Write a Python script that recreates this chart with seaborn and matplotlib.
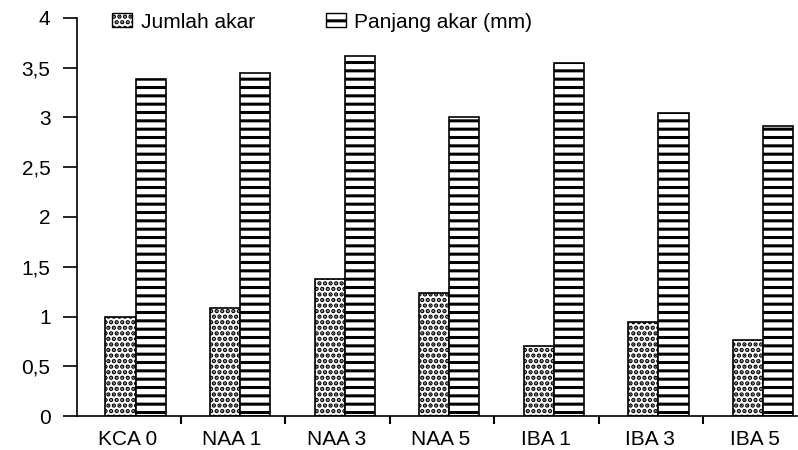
import numpy as np
import pandas as pd
import matplotlib
matplotlib.use("Agg")
import matplotlib.pyplot as plt
import matplotlib.patches as mpatches
from matplotlib.ticker import FixedLocator, FuncFormatter
import seaborn as sns

# data
perlakuan = ["KCA 0", "NAA 1", "NAA 3", "NAA 5", "IBA 1", "IBA 3", "IBA 5"]
jumlah_akar = [1.00, 1.09, 1.38, 1.24, 0.70, 0.94, 0.76]
panjang_akar = [3.39, 3.45, 3.62, 3.00, 3.55, 3.05, 2.91]
seri = ["Jumlah akar", "Panjang akar (mm)"]
hatches = ["...", "--"]

df = pd.DataFrame({
    "perlakuan": perlakuan * 2,
    "nilai": jumlah_akar + panjang_akar,
    "seri": [seri[0]] * len(perlakuan) + [seri[1]] * len(perlakuan),
})

sns.set_style("white")
plt.rcParams["font.family"] = ["Liberation Sans", "DejaVu Sans"]
plt.rcParams["text.color"] = "black"
plt.rcParams["xtick.color"] = "black"
plt.rcParams["ytick.color"] = "black"
plt.rcParams["hatch.linewidth"] = 2.2
plt.rcParams["hatch.color"] = "black"

fig = plt.figure(figsize=(7.98, 4.5), dpi=100)
ax = fig.add_axes([77 / 798, 1 - 416 / 450, 720 / 798, (416 - 18) / 450])

sns.barplot(data=df, x="perlakuan", y="nilai", hue="seri", order=perlakuan,
            hue_order=seri, palette=["white", "white"], width=0.575, gap=0,
            edgecolor="black", linewidth=1.2, saturation=1, legend=False, ax=ax)

for cont, h in zip(ax.containers, hatches):
    for bar in cont:
        bar.set_hatch(h)
        bar.set_edgecolor("black")

# bars sit a little right of the category centre in the original
ax.set_xlim(-0.56, 6.325)
ax.set_ylim(0, 4)
ax.set_xlabel("")
ax.set_ylabel("")
ax.set_xticks(np.arange(len(perlakuan)) - 0.08)
ax.set_xticklabels(perlakuan)
ax.set_yticks(np.arange(0, 4.01, 0.5))
ax.yaxis.set_major_formatter(FuncFormatter(lambda v, p: ("%g" % v).replace(".", ",")))
ax.xaxis.set_minor_locator(FixedLocator(np.arange(-0.57, 6.0, 1)))
ax.tick_params(axis="y", which="major", direction="out", length=10, width=1.2,
               color="black", labelcolor="black", labelsize=15, pad=9, left=True)
ax.tick_params(axis="x", which="major", length=0, labelcolor="black", labelsize=15, pad=10)
ax.tick_params(axis="x", which="minor", direction="out", length=6, width=1.5,
               color="black", bottom=True)

for s in ["top", "right"]:
    ax.spines[s].set_visible(False)
for s in ["left", "bottom"]:
    ax.spines[s].set_color("black")
    ax.spines[s].set_linewidth(1.2)

handles = [mpatches.Patch(facecolor="white", edgecolor="black", hatch=h, label=l)
           for h, l in zip(hatches, seri)]
fig.legend(handles=handles, loc="center left", bbox_to_anchor=(112 / 798, 1 - 22 / 450),
           ncol=2, frameon=False, fontsize=15, labelcolor="black",
           handlelength=0.95, handleheight=0.65,
           handletextpad=0.43, columnspacing=3.4, borderpad=0, borderaxespad=0)

fig.savefig("out.png", dpi=100, facecolor="white")
